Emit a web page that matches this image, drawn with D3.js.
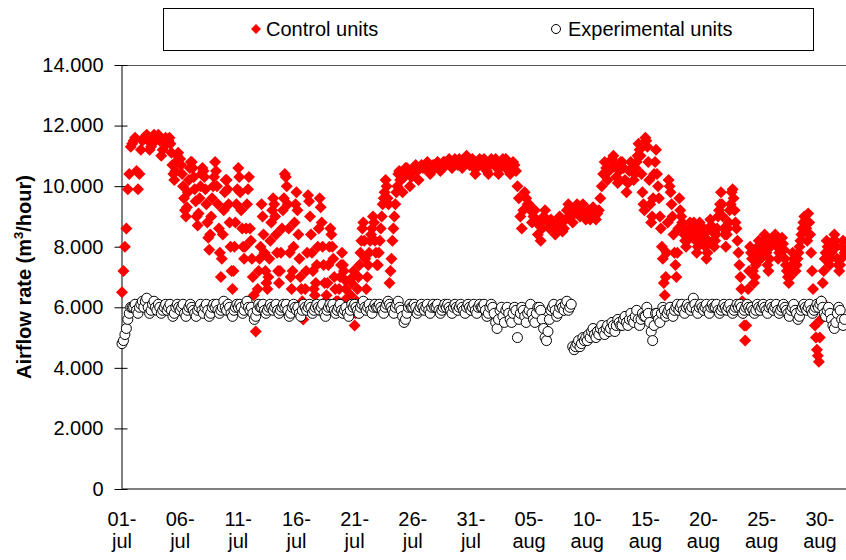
<!DOCTYPE html>
<html>
<head>
<meta charset="utf-8">
<script src="https://cdn.jsdelivr.net/npm/d3@7"></script>
<style>
  body { margin: 0; background: #fff; }
  svg { display: block; font-family: 'Liberation Sans', Arial, sans-serif; }
</style>
</head>
<body>
<div id="chart"></div>
<script>
// airflow rate in 1000 m3/hour, one row per day (01-jul onwards),
// readings spread evenly over the day (8 or 12 per day)
const controlUnits = [
  [6.5, 7.2, 8.0, 8.6, 9.9, 10.4, 11.3, 11.4],
  [11.5, 11.6, 10.5, 9.9, 10.4, 11.2, 11.5, 11.6],
  [11.6, 11.7, 11.5, 11.2, 11.3, 11.6, 11.7, 11.5],
  [11.6, 11.7, 11.5, 11.0, 11.2, 11.5, 11.6, 11.4],
  [11.5, 11.6, 11.4, 11.1, 10.7, 10.4, 10.2, 10.5, 10.8, 11.0, 11.1, 10.9],
  [10.9, 10.7, 10.4, 10.0, 9.6, 9.2, 9.0, 9.3, 9.8, 10.2, 10.6, 10.8],
  [10.8, 10.6, 10.3, 9.9, 9.5, 9.0, 8.7, 9.1, 9.6, 10.0, 10.4, 10.6],
  [10.5, 10.3, 9.9, 9.4, 8.8, 8.3, 7.9, 8.4, 9.0, 9.6, 10.0, 10.3],
  [10.8, 10.5, 10.0, 9.4, 8.6, 7.8, 7.0, 7.6, 8.4, 9.2, 9.8, 10.2],
  [10.2, 9.9, 9.4, 8.8, 8.0, 7.2, 6.6, 7.2, 8.0, 8.8, 9.4, 9.9],
  [10.6, 10.3, 9.8, 9.2, 8.6, 8.0, 7.6, 8.0, 8.6, 9.4, 9.9, 10.3],
  [8.6, 8.2, 7.6, 7.0, 6.4, 5.8, 5.2, 5.8, 6.6, 7.2, 7.6, 8.0],
  [9.4, 9.0, 8.4, 7.8, 7.2, 6.8, 6.6, 7.0, 7.6, 8.2, 8.8, 9.2],
  [9.6, 9.4, 9.0, 8.4, 7.8, 7.2, 6.8, 7.2, 7.8, 8.6, 9.2, 9.6],
  [10.4, 10.3, 10.0, 9.4, 8.6, 7.8, 7.0, 6.6, 7.2, 8.0, 8.8, 9.4],
  [9.8, 9.2, 8.4, 7.6, 7.0, 6.6, 6.2, 5.6, 6.0, 6.6, 7.2, 7.8],
  [9.7, 9.5, 9.0, 8.4, 7.8, 7.2, 6.6, 6.4, 6.8, 7.4, 8.0, 8.6],
  [9.6, 9.3, 8.8, 8.0, 7.4, 6.8, 6.2, 6.4, 6.8, 7.4, 8.0, 8.6],
  [8.4, 8.0, 7.6, 7.0, 6.6, 6.2, 6.0, 6.2, 6.6, 7.0, 7.4, 7.8],
  [7.4, 7.2, 6.9, 6.6, 6.3, 6.0, 5.8, 6.0, 6.4, 6.8, 7.0, 7.2],
  [5.4, 5.8, 6.2, 6.6, 7.0, 7.4, 7.8, 8.2, 8.6, 8.8, 8.2, 7.6],
  [6.6, 7.0, 7.4, 7.8, 8.2, 8.4, 8.6, 9.0, 8.8, 8.2, 7.8, 7.4],
  [7.4, 7.8, 8.2, 8.6, 9.0, 9.4, 9.6, 9.8, 10.2, 10.0, 9.6, 9.4],
  [6.8, 7.2, 7.6, 8.2, 8.6, 9.0, 9.4, 9.8, 10.0, 10.4, 10.5, 10.2],
  [10.2, 9.8, 10.3, 10.6, 10.6, 10.4, 10.0, 10.3],
  [10.5, 10.6, 10.7, 10.5, 10.2, 10.6, 10.7, 10.6],
  [10.6, 10.7, 10.8, 10.6, 10.4, 10.5, 10.7, 10.7],
  [10.7, 10.8, 10.7, 10.5, 10.6, 10.8, 10.8, 10.7],
  [10.8, 10.9, 10.7, 10.6, 10.8, 10.9, 10.8, 10.7],
  [10.9, 10.8, 10.6, 10.7, 10.9, 11.0, 10.8, 10.7],
  [10.8, 10.9, 10.6, 10.4, 10.6, 10.8, 10.9, 10.7],
  [10.7, 10.9, 10.8, 10.5, 10.4, 10.7, 10.9, 10.8],
  [10.8, 10.9, 10.6, 10.4, 10.6, 10.8, 10.9, 10.7],
  [10.9, 10.8, 10.5, 10.4, 10.6, 10.8, 10.7, 10.5],
  [10.0, 9.6, 9.0, 8.6, 9.2, 9.8, 9.6, 9.4],
  [9.4, 9.2, 8.8, 9.0, 9.2, 8.8, 8.4, 8.8],
  [8.2, 8.6, 9.0, 9.2, 8.9, 8.8, 8.6, 8.9],
  [8.8, 8.6, 8.4, 8.6, 8.8, 9.0, 8.7, 8.5],
  [8.6, 8.9, 9.2, 9.4, 9.3, 9.0, 8.8, 9.1],
  [9.2, 9.4, 9.3, 9.0, 9.2, 9.4, 9.1, 8.9],
  [9.0, 9.2, 8.9, 9.1, 9.3, 9.0, 8.9, 9.1],
  [9.2, 9.6, 10.0, 10.4, 10.8, 10.6, 10.2, 10.5],
  [10.6, 10.9, 11.0, 10.7, 10.3, 10.1, 10.5, 10.8],
  [10.8, 10.6, 10.2, 9.8, 10.1, 10.5, 10.8, 10.6],
  [10.2, 10.4, 10.6, 10.8, 11.0, 11.4, 11.2, 11.0, 10.4, 9.8, 9.4, 9.2],
  [11.6, 11.5, 11.3, 10.8, 10.2, 9.4, 8.8, 9.0, 9.6, 10.4, 10.8, 11.2],
  [10.4, 10.0, 9.6, 9.0, 8.6, 8.0, 7.6, 6.8, 6.4, 7.0, 7.8, 8.8],
  [10.2, 10.0, 9.8, 9.4, 9.0, 8.4, 7.8, 7.4, 7.0, 7.8, 8.6, 9.6],
  [9.2, 9.0, 8.8, 8.6, 8.4, 8.2, 8.0, 8.2, 8.4, 8.6, 8.8, 8.4],
  [8.6, 8.7, 8.8, 8.5, 8.2, 7.8, 8.0, 8.4, 8.8, 8.7, 8.6, 8.2],
  [8.4, 8.2, 8.0, 7.6, 7.8, 8.2, 8.6, 8.9, 8.7, 8.5, 8.2, 8.0],
  [8.2, 8.4, 8.6, 9.0, 9.2, 9.4, 9.8, 9.4, 9.0, 8.6, 8.4, 8.0],
  [8.4, 8.6, 8.8, 9.2, 9.4, 9.8, 9.9, 9.6, 9.2, 8.8, 8.6, 8.2],
  [7.8, 7.4, 7.0, 6.6, 6.2, 5.8, 5.4, 4.9, 5.4, 6.0, 6.6, 7.2],
  [8.0, 7.8, 7.6, 7.2, 6.8, 7.0, 7.4, 7.8, 8.0, 8.2, 7.9, 7.6],
  [7.8, 8.0, 8.2, 8.4, 8.1, 7.8, 7.4, 7.2, 7.6, 8.0, 8.2, 8.3],
  [8.2, 8.3, 8.4, 8.2, 8.0, 7.6, 7.8, 8.0, 8.1, 8.3, 8.1, 7.9],
  [7.6, 7.4, 7.2, 7.0, 6.8, 7.0, 7.2, 7.4, 7.8, 7.6, 7.4, 7.2],
  [7.4, 7.6, 7.8, 8.0, 8.2, 8.4, 8.6, 8.8, 9.0, 8.8, 8.6, 8.2],
  [9.1, 8.8, 8.4, 7.8, 7.2, 6.6, 6.0, 5.4, 5.0, 4.6, 4.4, 4.2],
  [5.0, 5.6, 6.2, 6.8, 7.2, 7.6, 7.8, 8.2, 8.0, 7.8, 7.4, 7.6],
  [7.8, 8.0, 8.2, 8.4, 8.2, 8.0, 7.6, 7.4, 7.2, 7.4, 7.6, 8.0],
  [8.2, 7.8]
]

const experimentalUnits = [
  [4.8, 4.9, 5.1, 5.3, 5.6, 5.8, 6.0, 6.0],
  [6.0, 6.1, 5.9, 5.8, 6.0, 6.1, 6.2, 6.0],
  [6.2, 6.3, 6.0, 5.8, 5.9, 6.1, 6.2, 6.0],
  [5.9, 6.1, 6.0, 5.8, 5.9, 6.0, 6.1, 5.9],
  [6.0, 6.1, 5.9, 5.7, 5.8, 6.0, 6.1, 6.0],
  [5.9, 6.0, 6.1, 5.8, 5.7, 5.9, 6.0, 6.1],
  [6.0, 5.9, 5.8, 5.7, 5.9, 6.0, 6.1, 5.9],
  [5.8, 6.0, 6.1, 5.9, 5.7, 5.8, 6.0, 6.1],
  [6.0, 6.1, 5.9, 5.8, 5.9, 6.0, 6.2, 6.0],
  [5.9, 6.1, 6.0, 5.8, 5.7, 5.9, 6.0, 6.1],
  [6.0, 6.1, 6.0, 5.8, 5.9, 6.1, 6.2, 6.0],
  [5.9, 6.0, 5.8, 5.6, 5.7, 5.9, 6.1, 6.0],
  [6.0, 6.1, 5.9, 5.8, 5.9, 6.0, 6.1, 6.0],
  [5.9, 6.0, 6.1, 5.9, 5.8, 5.9, 6.0, 6.1],
  [6.0, 6.1, 5.9, 5.7, 5.8, 6.0, 6.1, 6.0],
  [5.9, 6.0, 5.8, 5.7, 5.9, 6.1, 6.0, 5.9],
  [6.0, 6.1, 6.0, 5.8, 5.9, 6.0, 6.1, 6.0],
  [5.9, 6.0, 6.1, 5.8, 5.7, 5.9, 6.0, 6.1],
  [6.0, 6.1, 5.9, 5.8, 5.9, 6.0, 6.1, 5.9],
  [5.8, 5.9, 6.0, 5.8, 5.7, 5.9, 6.1, 6.0],
  [6.1, 6.0, 5.9, 5.8, 6.0, 6.1, 6.2, 6.0],
  [5.9, 6.0, 6.1, 5.9, 5.8, 6.0, 6.1, 6.0],
  [6.0, 6.1, 6.0, 5.9, 5.8, 6.0, 6.1, 6.2],
  [6.1, 6.0, 5.9, 5.8, 6.0, 6.1, 6.2, 6.0],
  [5.9, 5.7, 5.5, 5.6, 5.8, 6.0, 6.1, 6.0],
  [6.0, 6.1, 6.0, 5.8, 5.9, 6.0, 6.1, 6.0],
  [5.9, 6.0, 6.1, 5.9, 5.8, 6.0, 6.1, 6.0],
  [6.0, 6.1, 5.9, 5.8, 5.9, 6.0, 6.1, 6.0],
  [6.1, 6.0, 5.9, 5.8, 6.0, 6.1, 6.0, 5.9],
  [6.0, 6.1, 6.0, 5.9, 5.8, 6.0, 6.1, 6.0],
  [5.9, 6.0, 6.1, 5.9, 5.8, 6.0, 6.1, 6.0],
  [6.0, 6.1, 5.9, 5.7, 5.8, 6.0, 6.1, 6.0],
  [5.8, 5.5, 5.3, 5.6, 5.9, 6.0, 5.7, 5.5],
  [5.9, 6.0, 5.8, 5.6, 5.5, 5.8, 6.0, 5.9],
  [5.0, 5.6, 5.8, 6.0, 5.9, 5.7, 5.5, 5.8],
  [5.9, 6.1, 5.8, 5.6, 5.5, 5.8, 6.0, 6.0],
  [5.9, 5.6, 5.3, 5.0, 4.9, 5.2, 5.6, 5.9],
  [6.0, 6.1, 5.9, 5.7, 5.8, 6.0, 6.1, 6.0],
  [5.9, 6.1, 6.2, 5.9, 6.0, 6.1, 4.7, 4.6],
  [4.7, 4.8, 4.9, 4.7, 4.8, 5.0, 4.9, 5.0],
  [4.9, 5.1, 5.0, 5.2, 5.3, 5.1, 5.0, 5.2],
  [5.1, 5.3, 5.4, 5.2, 5.1, 5.3, 5.4, 5.2],
  [5.3, 5.5, 5.4, 5.2, 5.4, 5.6, 5.5, 5.4],
  [5.4, 5.6, 5.7, 5.5, 5.4, 5.6, 5.8, 5.6],
  [5.5, 5.7, 5.9, 5.6, 5.4, 5.6, 5.8, 5.7],
  [5.7, 6.0, 5.8, 5.5, 5.2, 4.9, 5.4, 5.8],
  [5.8, 5.6, 5.5, 5.8, 6.0, 5.9, 5.7, 5.8],
  [5.9, 6.0, 5.8, 5.7, 5.9, 6.0, 6.1, 5.9],
  [6.0, 6.1, 5.9, 5.8, 6.0, 6.1, 6.0, 5.9],
  [6.0, 6.3, 6.1, 5.9, 5.8, 6.0, 6.1, 6.0],
  [5.9, 6.0, 6.1, 5.9, 5.8, 6.0, 6.1, 6.0],
  [6.0, 6.1, 5.9, 5.8, 5.9, 6.0, 6.1, 6.0],
  [5.9, 6.0, 6.1, 5.9, 5.8, 5.9, 6.0, 6.1],
  [6.0, 6.1, 6.0, 5.8, 5.9, 6.0, 6.1, 6.0],
  [5.9, 6.0, 5.9, 5.8, 5.9, 6.1, 6.0, 5.9],
  [6.0, 6.1, 6.0, 5.9, 5.8, 6.0, 6.1, 6.0],
  [5.9, 6.0, 6.1, 5.9, 5.8, 5.9, 6.0, 6.1],
  [6.0, 5.9, 5.8, 5.7, 5.9, 6.0, 6.1, 5.9],
  [5.8, 5.6, 5.7, 5.9, 6.0, 6.1, 6.0, 5.9],
  [6.0, 6.1, 5.9, 5.8, 5.9, 6.0, 6.1, 6.0],
  [6.1, 6.2, 6.0, 5.8, 5.7, 5.9, 6.0, 5.8],
  [5.6, 5.4, 5.3, 5.5, 5.8, 6.0, 5.9, 5.6],
  [5.4, 5.6]
]

const readingsPerDay = 8
const xTickDays = [0, 5, 10, 15, 20, 25, 30, 35, 40, 45, 50, 55, 60]
const xTickLabels = ['01-jul', '06-jul', '11-jul', '16-jul', '21-jul', '26-jul', '31-jul',
  '05-aug', '10-aug', '15-aug', '20-aug', '25-aug', '30-aug']
const yTicks = [0, 2000, 4000, 6000, 8000, 10000, 12000, 14000]

const width = 846
const height = 560
const margin = { top: 65, right: 0, bottom: 71, left: 122 }
const fontSize = 20

// turn day rows into points, spread over the day
const toPoints = rows => rows.flatMap((row, day) => {
  const step = 1 / Math.max(row.length, readingsPerDay)
  return row.map((v, i) => ({ day: day + i * step, value: v * 1000 }))
})

const controlPoints = toPoints(controlUnits)
const experimentalPoints = toPoints(experimentalUnits)

const svg = d3.select('#chart')
  .append('svg')
  .attr('width', width)
  .attr('height', height)

const x = d3.scaleLinear()
  .domain([0, 62.25])
  .range([margin.left, width - margin.right])

const y = d3.scaleLinear()
  .domain([0, 14000])
  .range([height - margin.bottom, margin.top])

// plot area top border
svg.append('line')
  .attr('x1', x(0)).attr('x2', width)
  .attr('y1', y(14000) + 0.5).attr('y2', y(14000) + 0.5)
  .attr('stroke', '#555')

// y axis
const yAxis = svg.append('g')
  .attr('transform', `translate(${x(0) - 0.5},0)`)
  .call(d3.axisLeft(y)
    .tickValues(yTicks)
    .tickSizeInner(7)
    .tickSizeOuter(0)
    .tickPadding(11)
    .tickFormat(d => d === 0 ? '0' : d3.format(',')(d).replace(',', '.')))

yAxis.select('.domain').attr('stroke', '#000')
yAxis.selectAll('.tick line').attr('x1', 6).attr('stroke', '#000')
yAxis.selectAll('.tick text')
  .attr('font-size', fontSize)
  .attr('fill', '#000')
  .attr('font-family', "'Liberation Sans', Arial, sans-serif")

// x axis
const xAxis = svg.append('g')
  .attr('transform', `translate(0,${y(0) - 0.5})`)
  .call(d3.axisBottom(x).tickValues([]).tickSizeOuter(0))

xAxis.select('.domain').attr('stroke', '#000')

svg.append('g')
  .selectAll('text')
  .data(xTickDays)
  .join('text')
  .attr('x', d => x(d))
  .attr('text-anchor', 'middle')
  .attr('font-size', fontSize)
  .attr('fill', '#000')
  .each(function (d, i) {
    const parts = xTickLabels[i].split('-')
    const t = d3.select(this)
    t.append('tspan').attr('x', x(d)).attr('y', 526).text(parts[0] + '-')
    t.append('tspan').attr('x', x(d)).attr('y', 548).text(parts[1])
  })

// axis title
const title = svg.append('text')
  .attr('transform', `translate(31,${(y(0) + y(14000)) / 2}) rotate(-90)`)
  .attr('text-anchor', 'middle')
  .attr('font-size', fontSize)
  .attr('font-weight', 'bold')
  .attr('fill', '#000')

title.append('tspan').text('Airflow rate (m')
title.append('tspan').attr('font-size', 13).attr('dy', -8).text('3')
title.append('tspan').attr('dy', 8).text('/hour)')

// markers
const diamond = d3.symbol(d3.symbolSquare, 72)

svg.append('g')
  .selectAll('path')
  .data(controlPoints)
  .join('path')
  .attr('d', diamond)
  .attr('transform', d => `translate(${x(d.day)},${y(d.value)}) rotate(45)`)
  .attr('fill', '#ff0000')

svg.append('g')
  .selectAll('circle')
  .data(experimentalPoints)
  .join('circle')
  .attr('cx', d => x(d.day))
  .attr('cy', d => y(d.value))
  .attr('r', 5)
  .attr('fill', '#fff')
  .attr('stroke', '#000')
  .attr('stroke-width', 1)

// legend
const legend = svg.append('g')

legend.append('rect')
  .attr('x', 163.5).attr('y', 8.5)
  .attr('width', 650).attr('height', 42)
  .attr('fill', '#fff')
  .attr('stroke', '#000')

legend.append('path')
  .attr('d', d3.symbol(d3.symbolSquare, 50))
  .attr('transform', 'translate(256,29) rotate(45)')
  .attr('fill', '#ff0000')

legend.append('text')
  .attr('x', 266).attr('y', 36)
  .attr('font-size', fontSize)
  .attr('fill', '#000')
  .text('Control units')

legend.append('circle')
  .attr('cx', 556).attr('cy', 29).attr('r', 4.5)
  .attr('fill', '#fff').attr('stroke', '#000')

legend.append('text')
  .attr('x', 568).attr('y', 36)
  .attr('font-size', fontSize)
  .attr('fill', '#000')
  .text('Experimental units')
</script>
</body>
</html>
